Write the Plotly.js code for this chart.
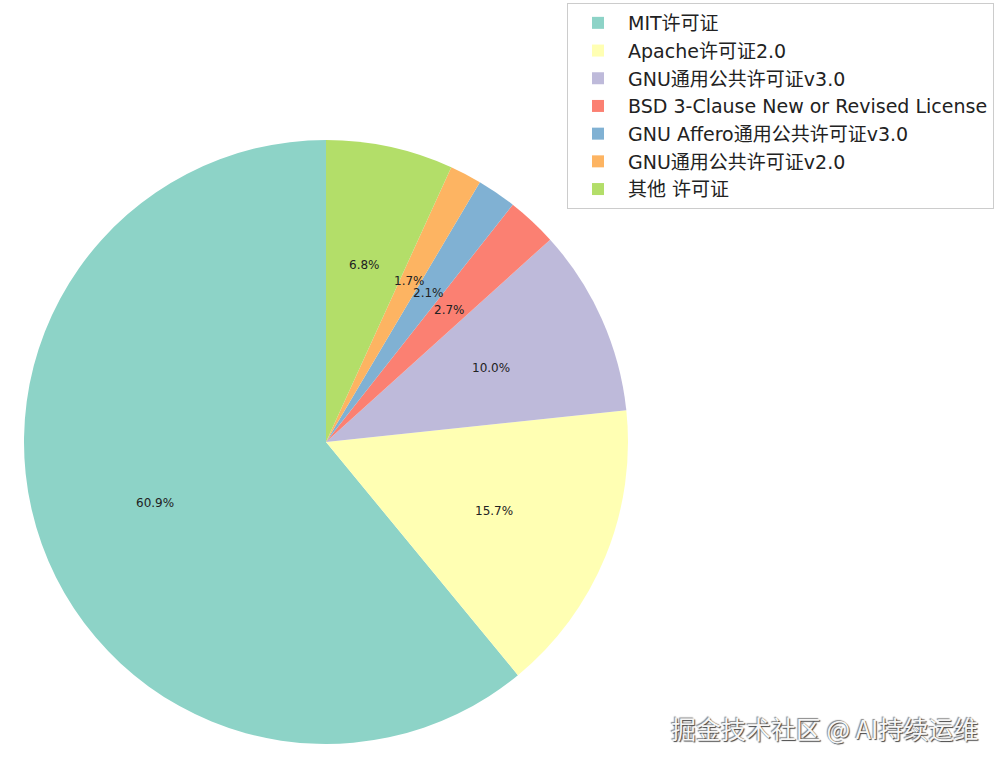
<!DOCTYPE html>
<html>
<head>
<meta charset="utf-8">
<script src="https://cdn.plot.ly/plotly-3.0.1.min.js"></script>
<style>
  html, body { margin: 0; padding: 0; background: #fff; }
  #chart { width: 1002px; height: 764px; }
</style>
</head>
<body>
<div id="chart"></div>
<script>
"use strict";

// licence shares, counterclockwise from 12 o'clock
const LICENSES = [
  "MIT许可证",
  "Apache许可证2.0",
  "GNU通用公共许可证v3.0",
  "BSD 3-Clause New or Revised License",
  "GNU Affero通用公共许可证v3.0",
  "GNU通用公共许可证v2.0",
  "其他 许可证",
];
const SHARES = [60.9, 15.7, 10.0, 2.7, 2.1, 1.7, 6.8];
const SHARE_LABELS = ["60.9%", "15.7%", "10.0%", "2.7%", "2.1%", "1.7%", "6.8%"];
const COLORS = ["#8dd3c7", "#ffffb3", "#bebada", "#fb8072", "#80b1d3", "#fdb462", "#b3de69"];

const W = 1002, H = 764;
const FONT = "'DejaVu Sans', 'Noto Sans CJK SC', sans-serif";

// pie placement (pixels): centre and radius
const CX = 326, CY = 442, R = 302;
const domX = [(CX - R) / W, (CX + R) / W];
const domY = [(H - CY - R) / H, (H - CY + R) / H];

const total = SHARES.reduce((a, b) => a + b, 0);

// plotly's counterclockwise mode puts slice 0 clockwise of the rotation,
// so shift it to make the first slice start at 12 o'clock going left
const rotation = 360 * (1 - SHARES[0] / total);

// percentage labels at 0.6 of the radius, like matplotlib's pctdistance
const annotations = [];
let acc = 0;
SHARES.forEach((v, i) => {
  const mid = (acc + v / 2) / total;
  acc += v;
  const th = Math.PI / 2 + 2 * Math.PI * mid;
  const px = CX + 0.6 * R * Math.cos(th);
  const py = (H - CY) + 0.6 * R * Math.sin(th);
  annotations.push({
    x: px / W, y: py / H, xref: "paper", yref: "paper",
    xanchor: "center", yanchor: "middle",
    text: SHARE_LABELS[i], showarrow: false,
    font: { family: FONT, size: 12, color: "#222" },
  });
});

// watermark
annotations.push({
  x: 980 / W, y: (H - 728) / H, xref: "paper", yref: "paper",
  xanchor: "right", yanchor: "middle",
  text: "掘金技术社区 @ AI持续运维", showarrow: false,
  font: { family: "'Noto Sans CJK SC', sans-serif", size: 25, color: "#f6f6f6",
          shadow: "1px 1px 1px #444, -1px -1px 1px #888" },
});

const data = [{
  type: "pie",
  labels: LICENSES,
  values: SHARES,
  sort: false,
  direction: "counterclockwise",
  rotation: rotation,
  textinfo: "none",
  hoverinfo: "label+percent",
  marker: { colors: COLORS, line: { width: 0 } },
  domain: { x: domX, y: domY },
}];

const layout = {
  width: W, height: H,
  margin: { l: 0, r: 0, t: 0, b: 0 },
  paper_bgcolor: "#fff",
  showlegend: true,
  legend: {
    x: 994 / W, y: 1 - 3 / H, xanchor: "right", yanchor: "top",
    font: { family: FONT, size: 19, color: "#222" },
    itemwidth: 50,
    bordercolor: "#cccccc", borderwidth: 1, bgcolor: "#fff",
    traceorder: "normal",
  },
  annotations: annotations,
};

Plotly.newPlot("chart", data, layout, { displayModeBar: false, staticPlot: true });
</script>
</body>
</html>
